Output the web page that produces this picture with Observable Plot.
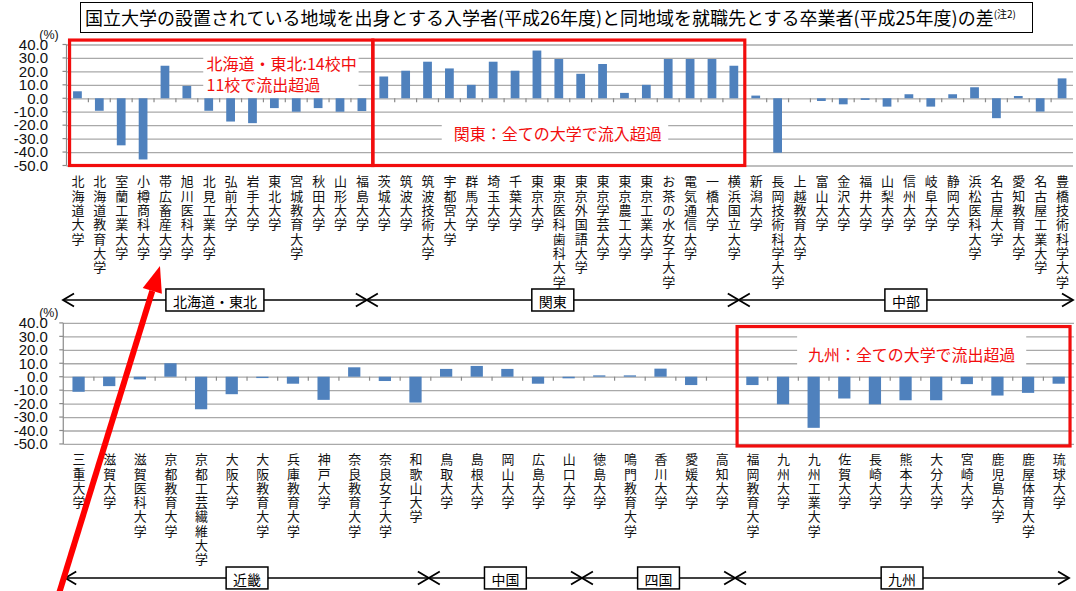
<!DOCTYPE html>
<html>
<head>
<meta charset="utf-8">
<script src="https://cdn.jsdelivr.net/npm/d3@7"></script>
<script src="https://cdn.jsdelivr.net/npm/@observablehq/plot@0.6"></script>
<style>
  html, body { margin: 0; padding: 0; background: #fff; }
  #chart { position: relative; width: 1076px; height: 591px; overflow: hidden; background: #fff;
           font-family: "Noto Sans CJK JP", "Noto Sans", sans-serif; }
  #title { position: absolute; left: 80px; top: 2px; width: 953px; height: 31px; box-sizing: border-box;
           border: 1.5px solid #000; background: #fff; font-size: 18px; line-height: 28px;
           padding-left: 4px; white-space: nowrap; color: #000; }
  #title sup { font-size: 10px; vertical-align: 7px; line-height: 0; }
</style>
</head>
<body>
<div id="chart">
  <div id="title">国立大学の設置されている地域を出身とする入学者(平成26年度)と同地域を就職先とする卒業者(平成25年度)の差<sup>(注2)</sup></div>
</div>
<script>
// Universities by region (upper panel: 北海道・東北, 関東, 中部)
const topNames = [
  "北海道大学", "北海道教育大学", "室蘭工業大学", "小樽商科大学", "帯広畜産大学", "旭川医科大学", "北見工業大学",
  "弘前大学", "岩手大学", "東北大学", "宮城教育大学", "秋田大学", "山形大学", "福島大学",
  "茨城大学", "筑波大学", "筑波技術大学", "宇都宮大学", "群馬大学", "埼玉大学", "千葉大学", "東京大学",
  "東京医科歯科大学", "東京外国語大学", "東京学芸大学", "東京農工大学", "東京工業大学", "お茶の水女子大学",
  "電気通信大学", "一橋大学", "横浜国立大学",
  "新潟大学", "長岡技術科学大学", "上越教育大学", "富山大学", "金沢大学", "福井大学", "山梨大学", "信州大学",
  "岐阜大学", "静岡大学", "浜松医科大学", "名古屋大学", "愛知教育大学", "名古屋工業大学", "豊橋技術科学大学"
];
// Difference (%) between local-origin entrants and local-employment graduates
const topValues = [
  5.2, -9.3, -35.0, -45.5, 24.2, 9.2, -9.3, -17.3, -18.5, -7.3, -10.0, -7.3, -10.0, -9.5,
  16.2, 20.5, 27.2, 22.2, 10.0, 27.2, 20.5, 35.5, 29.2, 18.2, 25.5, 4.0, 10.0, 29.2, 29.2, 29.2, 24.2,
  2.0, -40.5, 0.0, -2.0, -4.5, -1.2, -6.2, 3.0, -6.2, 3.0, 8.2, -14.8, 1.7, -9.9, 14.8
];
const topRegionNames = ["北海道・東北", "関東", "中部"];
const topRegionCounts = [14, 17, 15];

// Lower panel: 近畿, 中国, 四国, 九州
const bottomNames = [
  "三重大学", "滋賀大学", "滋賀医科大学", "京都教育大学", "京都工芸繊維大学", "大阪大学", "大阪教育大学",
  "兵庫教育大学", "神戸大学", "奈良教育大学", "奈良女子大学", "和歌山大学",
  "鳥取大学", "島根大学", "岡山大学", "広島大学", "山口大学",
  "徳島大学", "鳴門教育大学", "香川大学", "愛媛大学", "高知大学",
  "福岡教育大学", "九州大学", "九州工業大学", "佐賀大学", "長崎大学", "熊本大学", "大分大学", "宮崎大学",
  "鹿児島大学", "鹿屋体育大学", "琉球大学"
];
const bottomValues = [
  -11.2, -7.0, -2.0, 10.0, -24.2, -13.0, -1.0, -5.2, -17.2, 7.0, -3.2, -19.2,
  5.8, 8.0, 5.8, -5.2, -1.2,
  1.0, 1.0, 6.0, -6.2, 0.0,
  -6.2, -20.5, -38.0, -16.2, -20.5, -17.5, -17.5, -5.5, -14.0, -12.0, -5.2
];
const bottomRegionNames = ["近畿", "中国", "四国", "九州"];
const bottomRegionCounts = [12, 5, 5, 11];

const yTicks = [40, 30, 20, 10, 0, -10, -20, -30, -40, -50];

const chart = document.getElementById("chart");
const RED = "#f20d0d";
const JP = "Noto Sans CJK JP, Noto Sans, sans-serif";

function buildPanel(cfg) {
  const data = cfg.names.map((name, i) => ({name, value: cfg.values[i]}));
  const plot = Plot.plot({
    width: cfg.width,
    height: cfg.height,
    marginTop: cfg.marginTop,
    marginBottom: cfg.marginBottom,
    marginLeft: cfg.marginLeft,
    marginRight: cfg.marginRight,
    style: {background: "transparent", overflow: "visible", color: "#000"},
    x: {type: "band", domain: cfg.names, paddingInner: 0.6, paddingOuter: 0.3, align: 0.5, round: false, axis: null},
    y: {domain: [-50, 40], axis: null},
    marks: [
      Plot.ruleY(yTicks, {stroke: "#a9a9a9", strokeWidth: 1.3}),
      Plot.barY(data, {x: "name", y: "value", fill: "#4f81bd"}),
      Plot.text(yTicks, {
        y: d => d, text: d => d.toFixed(1), frameAnchor: "left", dx: cfg.labelDx, textAnchor: "end",
        fontFamily: "Liberation Sans, Arial, sans-serif", fontSize: 15, fill: "#111"
      }),
      Plot.text(["(%)"], {
        text: d => d, frameAnchor: "top-left", dx: cfg.labelDx + 1, dy: -15, textAnchor: "middle",
        fontFamily: "Liberation Sans, Arial, sans-serif", fontSize: 12.5, fill: "#111"
      }),
      // university names, set vertically below
      Plot.text(data, {
        x: "name", text: "name", frameAnchor: "bottom", dy: cfg.nameDy,
        textAnchor: "start", fontFamily: JP, fontSize: 13, fill: "#111"
      })
    ]
  });
  plot.style.position = "absolute";
  plot.style.left = "0px";
  plot.style.top = cfg.top + "px";
  chart.appendChild(plot);

  // vertical (tategaki) category names
  const nameSet = new Set(cfg.names);
  d3.select(plot).selectAll("text")
    .filter(function () { return nameSet.has(this.textContent); })
    .attr("y", null).attr("dy", null).attr("text-anchor", "start")
    .style("writing-mode", "vertical-rl")
    .style("text-orientation", "upright")
    .style("letter-spacing", "1.3px");
  return plot;
}

// Axis line, category ticks, region brackets and notes drawn on the panel's own scales
function decorate(plot, cfg) {
  const svg = d3.select(plot);
  const sx = plot.scale("x"), sy = plot.scale("y");
  const [x0, x1] = sx.range;
  const n = cfg.names.length;
  const step = (x1 - x0) / n;
  const slot = s => x0 + step * s;
  const y = v => sy.apply(v);
  const g = svg.append("g");

  // value axis
  g.append("line").attr("x1", x0).attr("x2", x0).attr("y1", y(40)).attr("y2", y(-50))
    .attr("stroke", "#8a8a8a").attr("stroke-width", 1.2);
  g.selectAll(".ytick").data(yTicks).join("line")
    .attr("x1", x0 - 4).attr("x2", x0).attr("y1", d => y(d)).attr("y2", d => y(d))
    .attr("stroke", "#8a8a8a").attr("stroke-width", 1.2);

  // category ticks on the zero line
  g.selectAll(".xtick").data(d3.range(1, n)).join("line")
    .attr("x1", d => slot(d)).attr("x2", d => slot(d)).attr("y1", y(0)).attr("y2", y(0) + 4)
    .attr("stroke", "#8a8a8a").attr("stroke-width", 1.2);

  // white-backed red notes
  for (const note of cfg.notes) {
    g.append("rect").attr("x", slot(note.s0)).attr("width", slot(note.s1) - slot(note.s0))
      .attr("y", y(note.v0)).attr("height", y(note.v1) - y(note.v0)).attr("fill", "#fff");
    note.lines.forEach((line, k) => {
      g.append("text").attr("x", slot(note.tx)).attr("y", y(note.ty) + k * 20.7)
        .attr("text-anchor", note.anchor).attr("dominant-baseline", "central")
        .attr("font-family", JP).attr("font-size", 16).attr("fill", RED).text(line);
    });
  }

  // red frames
  for (const b of cfg.redBoxes) {
    const xa = slot(b.s0), xb = slot(b.s1);
    g.append("rect").attr("x", xa).attr("y", y(b.v0)).attr("width", xb - xa).attr("height", y(b.v1) - y(b.v0))
      .attr("fill", "none").attr("stroke", RED).attr("stroke-width", 3.2);
  }

  // region brackets
  let start = 0;
  const by = cfg.bracketY;
  cfg.regionCounts.forEach((count, k) => {
    const end = start + count;
    const xs = k === 0 ? x0 + cfg.leftShift : slot(start) + cfg.crossShift;
    const xe = end === n ? x1 + cfg.rightShift : slot(end) + cfg.crossShift;
    const line = d3.line();
    g.append("path").attr("d", line([[xs, by], [xe, by]])).attr("stroke", "#000").attr("stroke-width", 1.6).attr("fill", "none");
    g.append("path").attr("d", line([[xs + 11, by - 6.5], [xs, by], [xs + 11, by + 6.5]]))
      .attr("stroke", "#000").attr("stroke-width", 1.8).attr("fill", "none");
    g.append("path").attr("d", line([[xe - 11, by - 6.5], [xe, by], [xe - 11, by + 6.5]]))
      .attr("stroke", "#000").attr("stroke-width", 1.8).attr("fill", "none");
    const cx = (xs + xe) / 2;
    const label = g.append("text").attr("x", cx).attr("y", by + 1).attr("text-anchor", "middle")
      .attr("dominant-baseline", "central").attr("font-family", JP).attr("font-size", 14).attr("fill", "#000")
      .text(cfg.regionNames[k]);
    const w = label.node().getComputedTextLength() + 14;
    g.insert("rect", () => label.node()).attr("x", cx - w / 2).attr("y", by - 11).attr("width", w).attr("height", 22)
      .attr("fill", "#fff").attr("stroke", "#000").attr("stroke-width", 1.5);
    start = end;
  });
  return {slot, y};
}

const topPlot = buildPanel({
  names: topNames, values: topValues, top: 0, width: 1076, height: 320,
  marginTop: 44.5, marginBottom: 154.5, marginLeft: 66.5, marginRight: 3, labelDx: -19, nameDy: 9
});
const topScales = decorate(topPlot, {
  names: topNames, regionNames: topRegionNames, regionCounts: topRegionCounts,
  bracketY: 300, crossShift: -6, leftShift: -3.5, rightShift: 0,
  redBoxes: [
    {s0: 0.14, s1: 14, v0: 43.3, v1: -50},
    {s0: 14, s1: 31, v0: 43.3, v1: -50}
  ],
  notes: [
    {s0: 6.25, s1: 13.35, v0: 34.5, v1: 4, tx: 6.4, ty: 25.9, anchor: "start",
     lines: ["北海道・東北:14校中", "11校で流出超過"]},
    {s0: 17.15, s1: 27.5, v0: -14, v1: -35, tx: 22.45, ty: -25.5, anchor: "middle",
     lines: ["関東：全ての大学で流入超過"]}
  ]
});

const bottomPlot = buildPanel({
  names: bottomNames, values: bottomValues, top: 300, width: 1080, height: 291,
  marginTop: 23, marginBottom: 146.5, marginLeft: 63.5, marginRight: 2, labelDx: -16, nameDy: 8.5
});
decorate(bottomPlot, {
  names: bottomNames, regionNames: bottomRegionNames, regionCounts: bottomRegionCounts,
  bracketY: 279, crossShift: -2, leftShift: 2, rightShift: -5,
  redBoxes: [
    {s0: 22, s1: 32.87, v0: 37.3, v1: -51.5}
  ],
  notes: [
    {s0: 23.96, s1: 31.44, v0: 36.2, v1: 4.9, tx: 27.7, ty: 16.5, anchor: "middle",
     lines: ["九州：全ての大学で流出超過"]}
  ]
});

// Red pointer to 帯広畜産大学
const overlay = d3.select(chart).append("svg").attr("width", 1076).attr("height", 591)
  .style("position", "absolute").style("left", "0px").style("top", "0px").style("pointer-events", "none");
const target = topNames.indexOf("帯広畜産大学");
const tip = [topScales.slot(target + 0.5) - 5, 266];
const tail = [57, 600];
const len = Math.hypot(tail[0] - tip[0], tail[1] - tip[1]);
const u = [(tail[0] - tip[0]) / len, (tail[1] - tip[1]) / len];
const headLen = 26, headHalf = 10;
const base = [tip[0] + u[0] * headLen, tip[1] + u[1] * headLen];
overlay.append("line").attr("x1", base[0]).attr("y1", base[1]).attr("x2", tail[0]).attr("y2", tail[1])
  .attr("stroke", "#ff0000").attr("stroke-width", 6);
overlay.append("path")
  .attr("d", d3.line()([tip, [base[0] - u[1] * headHalf, base[1] + u[0] * headHalf], [base[0] + u[1] * headHalf, base[1] - u[0] * headHalf]]) + "Z")
  .attr("fill", "#ff0000");
</script>
</body>
</html>
